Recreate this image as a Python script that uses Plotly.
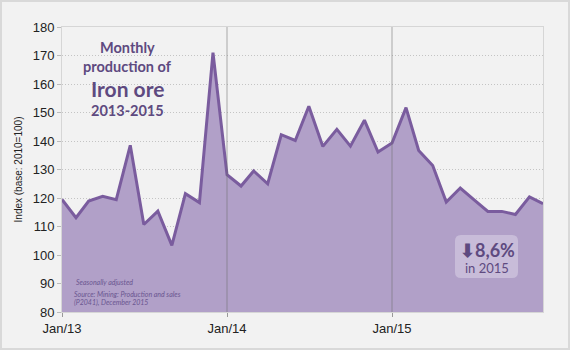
import plotly.graph_objects as go
import pandas as pd

months = pd.date_range("2013-01-01", "2015-12-01", freq="MS")
values = [119.5, 113.1, 118.9, 120.6, 119.4, 138.5, 110.7, 115.4, 103.4, 121.5, 118.4, 171.0,
          128.2, 124.2, 129.5, 125.0, 142.2, 140.2, 152.2, 138.1, 144.1, 138.2, 147.3, 136.1,
          139.3, 151.7, 136.7, 131.4, 118.6, 123.5, 119.4, 115.3, 115.3, 114.2, 120.4, 118.0]
tick_vals = ["2013-01-01", "2014-01-01", "2015-01-01"]
tick_text = ["Jan/13", "Jan/14", "Jan/15"]
y_ticks = [80, 90, 100, 110, 120, 130, 140, 150, 160, 170, 180]

W, H = 570, 350
ML, MR, MT, MB = 62, 27, 27, 38
PW, PH = W - ML - MR, H - MT - MB

fig = go.Figure()
fig.add_trace(go.Scatter(
    x=months, y=values, mode="lines", fill="tozeroy",
    fillcolor="#b1a0c8", line=dict(color="#7a5c9e", width=3),
    hoverinfo="skip", showlegend=False))

shapes = []
for tv in tick_vals[1:]:
    shapes.append(dict(type="line", xref="x", yref="paper", x0=tv, x1=tv, y0=0, y1=1,
                       line=dict(color="rgba(110,110,110,0.55)", width=1), layer="above"))
# annotation rounded box (in paper coords)
bx0, bx1, by0, by1 = (455 - ML) / PW, (518 - ML) / PW, (H - MB - 278) / PH, (H - MB - 235) / PH
r = 6
rx, ry = r / PW, r / PH
path = (f"M {bx0+rx},{by0} L {bx1-rx},{by0} Q {bx1},{by0} {bx1},{by0+ry} "
        f"L {bx1},{by1-ry} Q {bx1},{by1} {bx1-rx},{by1} L {bx0+rx},{by1} "
        f"Q {bx0},{by1} {bx0},{by1-ry} L {bx0},{by0+ry} Q {bx0},{by0} {bx0+rx},{by0} Z")
shapes.append(dict(type="path", xref="paper", yref="paper", path=path,
                   fillcolor="#c8bcd9", line=dict(width=0), layer="above"))
# outer frame
shapes.append(dict(type="rect", xref="paper", yref="paper",
                   x0=-(ML - 1) / PW, x1=1 + (MR - 1) / PW, y0=-(MB - 1) / PH, y1=1 + (MT - 1) / PH,
                   line=dict(color="#d9d9d9", width=2), fillcolor="rgba(0,0,0,0)", layer="above"))

title_color = "#5e4a80"
note_color = "#6a5690"
ann = []
cx = (127 - ML) / PW
def py(ypix):
    return (H - MB - ypix) / PH
ann += [
    dict(text="<b>Monthly</b>", x=cx, y=py(47), font=dict(size=14.5, color=title_color, family="Lato")),
    dict(text="<b>production of</b>", x=cx, y=py(66), font=dict(size=14.5, color=title_color, family="Lato")),
    dict(text="<b>Iron ore</b>", x=cx, y=py(88), font=dict(size=21, color=title_color, family="Lato")),
    dict(text="<b>2013-2015</b>", x=cx, y=py(110), font=dict(size=14.5, color=title_color, family="Lato")),
]
for a in ann:
    a.update(xref="paper", yref="paper", showarrow=False, xanchor="center", yanchor="middle")
notes = [
    dict(text="<i>Seasonally adjusted</i>", x=(74 - ML) / PW, y=py(282)),
    dict(text="<i>Source: Mining: Production and sales</i>", x=(72 - ML) / PW, y=py(294)),
    dict(text="<i>(P2041), December 2015</i>", x=(72 - ML) / PW, y=py(302)),
]
for a in notes:
    a.update(xref="paper", yref="paper", showarrow=False, xanchor="left", yanchor="middle",
             font=dict(size=7, color=note_color, family="Lato"))
ann += notes
ann += [
    dict(text="<b>⬇8,6%</b>", x=(487 - ML) / PW, y=py(250), xref="paper", yref="paper",
         showarrow=False, xanchor="center", yanchor="middle",
         font=dict(size=18, color=title_color, family="Lato")),
    dict(text="in 2015", x=(487 - ML) / PW, y=py(268), xref="paper", yref="paper",
         showarrow=False, xanchor="center", yanchor="middle",
         font=dict(size=13, color=title_color, family="Lato")),
]

fig.update_layout(
    width=W, height=H,
    margin=dict(l=ML, r=MR, t=MT, b=MB),
    paper_bgcolor="#f2f2f2", plot_bgcolor="#f2f2f2",
    font=dict(family="Liberation Sans, Arial", size=13, color="#222222"),
    shapes=shapes, annotations=ann,
    xaxis=dict(range=[months[0], months[-1]], tickvals=tick_vals, ticktext=tick_text,
               showgrid=False, zeroline=False, ticks="outside", ticklen=4, tickcolor="#999999",
               showline=True, linecolor="#d6d6d6", mirror=True,
               tickfont=dict(size=13, color="#222222")),
    yaxis=dict(range=[80, 180], tickvals=y_ticks, showgrid=True, gridcolor="#c4c4c4",
               griddash="1px,2px", gridwidth=1, zeroline=False, ticks="outside", ticklen=4,
               tickcolor="#bbbbbb", showline=True, linecolor="#d6d6d6", mirror=True,
               title=dict(text="Index (base: 2010=100)", font=dict(size=10, color="#222222"), standoff=8),
               tickfont=dict(size=13, color="#222222")),
)
fig.write_html("out.html")
